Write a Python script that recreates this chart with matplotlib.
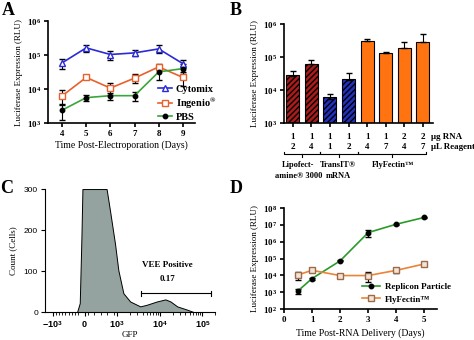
import matplotlib
matplotlib.use('Agg')
import matplotlib.pyplot as plt
import numpy as np
from matplotlib.lines import Line2D
from matplotlib.ticker import FixedLocator, NullFormatter, NullLocator

plt.rcParams['font.family'] = 'Liberation Serif'
plt.rcParams['font.weight'] = 'bold'
plt.rcParams['mathtext.fontset'] = 'custom'
plt.rcParams['mathtext.rm'] = 'Liberation Serif:bold'
plt.rcParams['mathtext.bf'] = 'Liberation Serif:bold'
plt.rcParams['mathtext.it'] = 'Liberation Serif:bold:italic'
plt.rcParams['mathtext.sf'] = 'Liberation Sans'

## panel A - electroporation buffers
days_a = [4, 5, 6, 7, 8, 9]
cytomix = [5.9e4, 1.63e5, 1.04e5, 1.16e5, 1.52e5, 5.6e4]
cytomix_err = [2.0e4, 4.0e4, 3.0e4, 2.5e4, 4.0e4, 1.5e4]
ingenio = [6.3e3, 2.2e4, 1.07e4, 2.1e4, 4.5e4, 2.2e4]
ingenio_err = [3.0e3, 2.0e3, 4.0e3, 6.0e3, 8.0e3, 1.0e4]
pbs = [2.4e3, 5.6e3, 6.4e3, 6.4e3, 3.2e4, 4.0e4]
pbs_err = [1.2e3, 1.2e3, 1.5e3, 1.8e3, 1.3e4, 1.3e4]

## panel B - transfection reagents
bar_vals = [2.7e4, 6.0e4, 5.3e3, 2.0e4, 3.15e5, 1.33e5, 1.93e5, 2.9e5]
bar_err = [1.0e4, 2.4e4, 2.4e3, 1.4e4, 3.5e4, 7.0e3, 8.7e4, 2.0e5]
ug_rna = ['1', '1', '1', '1', '1', '1', '2', '2']
ul_reagent = ['2', '4', '1', '2', '4', '7', '4', '7']
bar_colors = ['#ac1a1a', '#ac1a1a', '#2230c0', '#2230c0',
              '#ff7410', '#ff7410', '#ff7410', '#ff7410']
bar_hatch = ['//////', '//////', '//////', '//////', '', '', '', '']
group_line1 = ['Lipofect-', 'TransIT®', 'FlyFectin™']
group_line2 = ['amine® 3000', 'mRNA', '']
group_spans = [(-0.45, 1.45), (1.45, 3.5), (3.5, 7.2)]
group_text_x = [0.3, 2.45, 5.4]

## panel C - flow histogram
gfp = [-240, -156, -104, -73, 677, 781, 937, 1075, 1410, 2030, 3500,
       5000, 8600, 13600, 17900, 25700, 44000, 63000]
counts = [0, 22, 183, 300, 300, 248, 167, 102, 46, 26, 14,
          18, 26, 31, 26, 14, 6, 0]
gate = (3600, 160000)

## panel D - replicon vs flyfectin
days_d = [0.5, 1, 2, 3, 4, 5]
replicon = [1.2e3, 6.5e3, 7.3e4, 3.5e6, 1.1e7, 2.8e7]
replicon_err = [4.0e2, 8.0e2, 6.0e3, 1.6e6, 1.0e6, 1.5e6]
flyfectin = [1.07e4, 2.0e4, 9.8e3, 9.8e3, 2.0e4, 4.8e4]
flyfectin_err = [5.0e3, 3.0e3, 1.0e3, 5.5e3, 6.0e3, 5.0e3]


def style_axes(ax, lw=1.2):
    ax.spines['top'].set_visible(False)
    ax.spines['right'].set_visible(False)
    ax.spines['left'].set_linewidth(lw)
    ax.spines['bottom'].set_linewidth(lw)
    ax.tick_params(direction='out', width=lw, length=3, labelsize=6.5, pad=2)


def log_labels(ax, lo, hi):
    ticks = [10.0 ** k for k in range(lo, hi + 1)]
    ax.yaxis.set_major_locator(FixedLocator(ticks))
    ax.set_yticklabels([f'$10^{{{k}}}$' for k in range(lo, hi + 1)])
    ax.yaxis.set_minor_locator(NullLocator())


fig = plt.figure(figsize=(4.74, 3.40), dpi=100)

# ---- A
ax = fig.add_axes([0.1013, 0.638, 0.310, 0.300])
style_axes(ax)
ax.set_yscale('log')
styles_a = [
    ('Cytomix', cytomix, cytomix_err, '#2a2ad8', '^', 'white', '#2a2ad8', 4),
    ('Ingenio$^{®}$', ingenio, ingenio_err, '#e8602c', 's', 'white', '#e8602c', 3.8),
    ('PBS', pbs, pbs_err, '#3aa53a', 'o', 'black', 'black', 3.2),
]
handles = []
for name, vals, err, col, mk, fc, ec, ms in styles_a:
    ax.errorbar(days_a, vals, yerr=err, color=col, lw=1.2, marker=mk, ms=ms,
                mfc=fc, mec=ec, ecolor='black', elinewidth=0.8, capsize=2)
    handles.append(Line2D([], [], color=col, lw=1.2, marker=mk, ms=ms, mfc=fc,
                          mec=ec, label=name))
ax.set_xlim(3.42, 9.5)
ax.set_ylim(1e3, 1e6)
ax.set_xticks(days_a)
log_labels(ax, 3, 6)
ax.set_xlabel('Time Post-Electroporation (Days)', fontsize=7, labelpad=2)
ax.set_ylabel('Luciferase Expression (RLU)', fontsize=6.5, labelpad=3)
fig.legend(handles=handles, loc='upper left', bbox_to_anchor=(0.333, 0.752),
           frameon=False, fontsize=7.5, handlelength=1.4, handletextpad=0.3,
           labelspacing=0.18, borderpad=0, borderaxespad=0)

# ---- B
ax = fig.add_axes([0.599, 0.638, 0.314, 0.291])
style_axes(ax)
ax.set_yscale('log')
pos = np.arange(len(bar_vals))
for i in pos:
    ax.bar(i, bar_vals[i], width=0.7, bottom=1e3, color=bar_colors[i],
           edgecolor='black', linewidth=0.8, hatch=bar_hatch[i])
ax.errorbar(pos, bar_vals, yerr=[np.zeros(len(bar_vals)), bar_err], fmt='none',
            ecolor='black', elinewidth=0.8, capsize=2)
ax.set_xlim(-0.48, 7.54)
ax.set_ylim(1e3, 1e6)
ax.set_xticks(pos)
ax.set_xticklabels([])
log_labels(ax, 3, 6)
ax.set_ylabel('Luciferase Expression (RLU)', fontsize=6.5, labelpad=3)
trans = ax.get_xaxis_transform()
for i in pos:
    ax.text(i, -0.14, ug_rna[i], transform=trans, ha='center', va='center', fontsize=6.5)
    ax.text(i, -0.245, ul_reagent[i], transform=trans, ha='center', va='center', fontsize=6.5)
ax.text(7.45, -0.14, 'μg RNA', transform=trans, ha='left', va='center', fontsize=6.5)
ax.text(7.45, -0.245, 'μL Reagent', transform=trans, ha='left', va='center', fontsize=6.5)
for (x0, x1), l1, l2, tx in zip(group_spans, group_line1, group_line2, group_text_x):
    xm = (x0 + x1) / 2
    ax.plot([x0, x0, x1, x1], [-0.29, -0.315, -0.315, -0.29], transform=trans,
            color='black', lw=0.8, clip_on=False)
    ax.plot([xm, xm], [-0.315, -0.34], transform=trans, color='black', lw=0.8,
            clip_on=False)
    ax.text(tx, -0.42, l1, transform=trans, ha='center', va='center', fontsize=6)
    ax.text(tx, -0.53, l2, transform=trans, ha='center', va='center', fontsize=6)

# ---- C
ax = fig.add_axes([0.095, 0.082, 0.359, 0.362])
style_axes(ax, lw=0.8)
ax.set_xscale('symlog', linthresh=1000, linscale=0.68)
ax.fill_between(gfp, counts, 0, facecolor='#94a3a0', edgecolor='black', lw=0.7)
ax.plot(gate, [46, 46], color='black', lw=0.8)
ax.plot([gate[0], gate[0]], [40, 52], color='black', lw=0.8)
ax.plot([gate[1], gate[1]], [40, 52], color='black', lw=0.8)
ax.text(1.5e4, 115, 'VEE Positive', ha='center', va='center', fontsize=6.5)
ax.text(1.5e4, 80, '0.17', ha='center', va='center', fontsize=6.5)
ax.set_xlim(-1500, 2e5)
ax.set_ylim(0, 300)
ax.set_yticks([0, 100, 200, 300])
ax.set_yticklabels(['0', '100', '200', '300'], family='Liberation Sans',
                   fontweight='normal', fontsize=6)
ax.xaxis.set_major_locator(FixedLocator([-1000, 0, 1000, 10000, 100000]))
ax.set_xticklabels([r'$\mathsf{-10}^{\mathsf{3}}$', r'$\mathsf{0}$',
                    r'$\mathsf{10}^{\mathsf{3}}$', r'$\mathsf{10}^{\mathsf{4}}$',
                    r'$\mathsf{10}^{\mathsf{5}}$'], fontsize=6.5)
minor = ([-m * 100 for m in range(2, 10)] + [m * 100 for m in range(1, 10, 2)] +
         [m * 1000 for m in range(2, 10)] + [m * 10000 for m in range(2, 10)] +
         [m * 100000 for m in range(2, 3)])
ax.xaxis.set_minor_locator(FixedLocator(minor))
ax.xaxis.set_minor_formatter(NullFormatter())
ax.tick_params(axis='x', which='minor', length=1.8, width=0.6)
ax.set_ylabel('Count (Cells)', fontsize=6.5, labelpad=5)
ax.set_xlabel('GFP', fontsize=6.5, labelpad=1)

# ---- D
ax = fig.add_axes([0.599, 0.091, 0.323, 0.297])
style_axes(ax)
ax.set_yscale('log')
styles_d = [
    ('Replicon Particle', replicon, replicon_err, '#2a9a2a', 'o', 'black', 'black', 3.2),
    ('FlyFectin™', flyfectin, flyfectin_err, '#ec8336', 's', '#f4e4d8', '#9a6a4a', 3.8),
]
handles = []
for name, vals, err, col, mk, fc, ec, ms in styles_d:
    ax.errorbar(days_d, vals, yerr=err, color=col, lw=1.2, marker=mk, ms=ms,
                mfc=fc, mec=ec, ecolor='black', elinewidth=0.8, capsize=2)
    handles.append(Line2D([], [], color=col, lw=1.2, marker=mk, ms=ms, mfc=fc,
                          mec=ec, label=name))
ax.set_xlim(0, 5.45)
ax.set_ylim(1e2, 1e8)
ax.set_xticks([0, 1, 2, 3, 4, 5])
log_labels(ax, 2, 8)
ax.set_xlabel('Time Post-RNA Delivery (Days)', fontsize=7, labelpad=3)
ax.set_ylabel('Luciferase Expression (RLU)', fontsize=6.5, labelpad=3)
fig.legend(handles=handles, loc='upper left', bbox_to_anchor=(0.764, 0.168),
           frameon=False, fontsize=6.5, handlelength=2.0, handletextpad=0.5,
           labelspacing=0.45, borderpad=0, borderaxespad=0)

# panel letters
for lab, x, y in [('A', 0.004, 0.995), ('B', 0.484, 0.995),
                  ('C', 0.0, 0.47), ('D', 0.484, 0.47)]:
    fig.text(x, y, lab, fontsize=13, fontweight='bold', ha='left', va='top')

fig.savefig('out.png', dpi=100)
